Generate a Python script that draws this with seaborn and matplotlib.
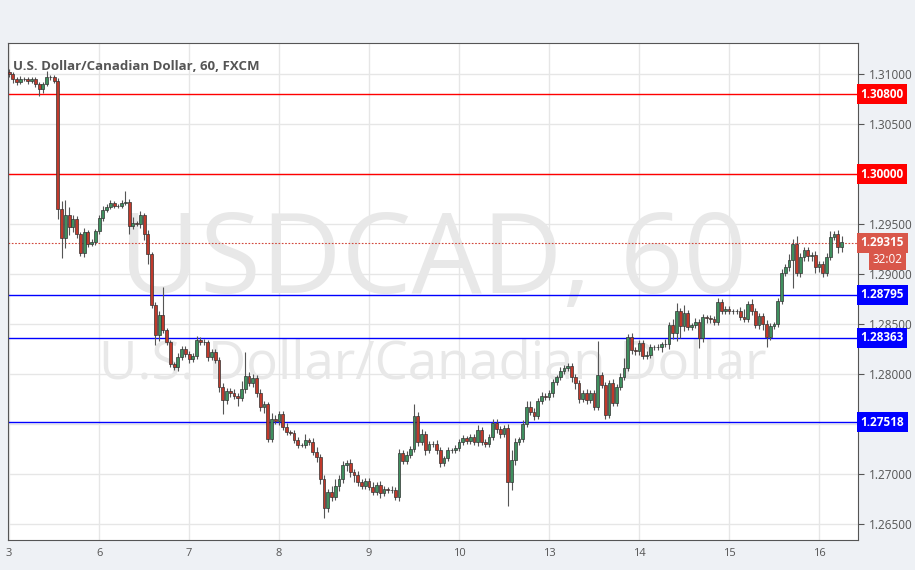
import numpy as np
import pandas as pd
import matplotlib
matplotlib.use("Agg")
import matplotlib.pyplot as plt
import seaborn as sns

# hourly closes, one per candle (open = previous close)
first_open = 1.3102
closes = [
    # day 5
    1.3100, 1.3095, 1.3092, 1.3095, 1.3095, 1.3093, 1.3095, 1.3090, 1.3085, 1.3090, 1.3097, 1.3097, 1.3093,
    1.2965, 1.2936, 1.2959, 1.2947, 1.2955, 1.2940, 1.2921, 1.2942, 1.2930, 1.2932, 1.2943,
    # day 6
    1.2956, 1.2964, 1.2967, 1.2971, 1.2968, 1.2968, 1.2971, 1.2972, 1.2948, 1.2951, 1.2950, 1.2959,
    1.2940, 1.2920, 1.2869, 1.2839, 1.2859, 1.2844, 1.2832, 1.2810, 1.2807, 1.2817, 1.2825, 1.2820,
    # day 7
    1.2815, 1.2818, 1.2834, 1.2832, 1.2832, 1.2817, 1.2822, 1.2814, 1.2787, 1.2774, 1.2783, 1.2781,
    1.2778, 1.2776, 1.2785, 1.2798, 1.2791, 1.2796, 1.2781, 1.2767, 1.2770, 1.2735, 1.2755, 1.2753,
    # day 8
    1.2760, 1.2747, 1.2742, 1.2741, 1.2734, 1.2729, 1.2729, 1.2734, 1.2732, 1.2722, 1.2717, 1.2695,
    1.2666, 1.2682, 1.2677, 1.2688, 1.2695, 1.2709, 1.2711, 1.2702, 1.2699, 1.2692, 1.2688, 1.2693,
    # day 9
    1.2687, 1.2682, 1.2689, 1.2681, 1.2685, 1.2684, 1.2684, 1.2677, 1.2721, 1.2713, 1.2719, 1.2725,
    1.2758, 1.2732, 1.2740, 1.2724, 1.2730, 1.2730, 1.2724, 1.2711, 1.2716, 1.2724, 1.2724, 1.2726,
    # day 10
    1.2732, 1.2736, 1.2733, 1.2737, 1.2732, 1.2744, 1.2732, 1.2730, 1.2737, 1.2751, 1.2745, 1.2740,
    1.2746, 1.2692, 1.2714, 1.2732, 1.2735, 1.2750, 1.2767, 1.2762, 1.2758, 1.2773, 1.2778, 1.2777,
    # day 13
    1.2781, 1.2792, 1.2797, 1.2803, 1.2806, 1.2808, 1.2797, 1.2791, 1.2775, 1.2781, 1.2774, 1.2781,
    1.2767, 1.2799, 1.2789, 1.2759, 1.2791, 1.2771, 1.2787, 1.2797, 1.2806, 1.2837, 1.2824, 1.2823,
    # day 14
    1.2831, 1.2818, 1.2819, 1.2827, 1.2827, 1.2827, 1.2830, 1.2830, 1.2849, 1.2841, 1.2863, 1.2848,
    1.2861, 1.2847, 1.2849, 1.2852, 1.2836, 1.2857, 1.2856, 1.2855, 1.2852, 1.2872, 1.2863, 1.2865,
    # day 15
    1.2863, 1.2863, 1.2863, 1.2857, 1.2855, 1.2870, 1.2863, 1.2849, 1.2858, 1.2850, 1.2837, 1.2848,
    1.2850, 1.2873, 1.2901, 1.2907, 1.2914, 1.2930, 1.2901, 1.2917, 1.2924, 1.2918, 1.2919, 1.2907,
    # day 16
    1.2910, 1.2901, 1.2917, 1.2937, 1.2940, 1.2927, 1.2932,
]

# wick lengths above / below the body, in pips
wick_up = [
    3, 2, 2, 3, 2, 2, 2, 2, 2, 2, 6, 2, 2, 3, 8, 15, 8, 4, 3, 2, 4, 2, 3, 2,
    3, 4, 3, 3, 2, 2, 3, 11, 3, 6, 2, 4, 2, 4, 2, 3, 4, 28, 2, 2, 2, 4, 3, 3,
    3, 3, 4, 3, 3, 2, 3, 3, 3, 4, 3, 3, 4, 3, 8, 24, 4, 4, 3, 4, 3, 2, 6, 4,
    3, 3, 4, 2, 3, 3, 2, 6, 2, 4, 5, 3, 4, 3, 6, 7, 4, 4, 3, 4, 3, 4, 3, 3,
    3, 5, 3, 4, 3, 2, 4, 3, 4, 3, 4, 3, 12, 4, 5, 3, 3, 3, 4, 3, 2, 3, 2, 3,
    3, 3, 2, 3, 3, 5, 3, 3, 3, 4, 4, 3, 3, 4, 10, 4, 2, 4, 6, 6, 4, 3, 4, 3,
    3, 3, 2, 4, 3, 3, 3, 3, 3, 3, 4, 3, 3, 34, 3, 3, 3, 4, 3, 4, 10, 3, 4, 3,
    3, 3, 4, 3, 2, 3, 2, 5, 3, 6, 8, 3, 8, 3, 2, 4, 3, 3, 2, 3, 3, 4, 3, 3,
    3, 2, 2, 4, 8, 3, 5, 3, 3, 3, 4, 3, 2, 3, 4, 3, 6, 5, 8, 4, 3, 3, 3, 4,
    3, 3, 4, 6, 3, 4, 6,
]
wick_dn = [
    3, 4, 3, 2, 2, 3, 2, 3, 7, 4, 2, 3, 2, 10, 20, 10, 8, 5, 4, 3, 4, 3, 2, 3,
    3, 3, 2, 2, 2, 2, 2, 2, 8, 3, 2, 4, 6, 10, 3, 10, 6, 3, 3, 3, 3, 4, 3, 3,
    4, 3, 3, 3, 3, 4, 3, 3, 5, 14, 4, 4, 3, 8, 3, 4, 3, 4, 4, 4, 6, 3, 3, 3,
    4, 3, 3, 2, 3, 3, 2, 3, 3, 3, 5, 5, 10, 4, 4, 3, 5, 4, 6, 5, 7, 4, 3, 3,
    3, 3, 3, 5, 3, 3, 3, 3, 4, 3, 3, 3, 3, 4, 3, 5, 3, 3, 4, 4, 3, 3, 3, 3,
    3, 3, 3, 3, 3, 4, 3, 3, 3, 3, 4, 4, 3, 24, 8, 5, 3, 3, 3, 3, 4, 3, 3, 3,
    3, 4, 3, 3, 3, 3, 5, 6, 4, 3, 4, 3, 3, 3, 3, 4, 3, 3, 3, 3, 3, 3, 4, 4,
    4, 3, 3, 3, 3, 3, 5, 3, 5, 6, 8, 12, 5, 3, 3, 3, 10, 4, 5, 4, 3, 3, 3, 3,
    3, 3, 3, 3, 3, 3, 4, 3, 4, 6, 10, 3, 3, 3, 3, 3, 4, 28, 3, 4, 4, 5, 5, 6,
    5, 4, 3, 3, 3, 6, 5,
]

day_ticks = [0, 24, 48, 72, 96, 120, 144, 168, 192, 216]
day_labels = ["3", "6", "7", "8", "9", "10", "13", "14", "15", "16"]

price_ticks = [1.265, 1.270, 1.275, 1.280, 1.285, 1.290, 1.295, 1.300, 1.305, 1.310]
red_levels = [1.30800, 1.30000]
blue_levels = [1.28795, 1.28363, 1.27518]
last_price = 1.29315
countdown = "32:02"

df = pd.DataFrame({"close": closes})
df["open"] = [first_open] + closes[:-1]
df["up"] = df["close"] >= df["open"]
df["top"] = df[["open", "close"]].max(axis=1)
df["bot"] = df[["open", "close"]].min(axis=1)
df["high"] = df["top"] + np.array(wick_up) * 1e-4
df["low"] = df["bot"] - np.array(wick_dn) * 1e-4
df["x"] = np.arange(len(df))

sns.set_style("white")
plt.rcParams["font.family"] = ["Open Sans", "DejaVu Sans"]

fig = plt.figure(figsize=(9.15, 5.7), dpi=100, facecolor="#eef1f5")
ax = fig.add_axes([8 / 915, 30 / 570, 850 / 915, 497 / 570], facecolor="white")

ax.set_xlim(-0.3, 226.4)
ax.set_ylim(1.26342, 1.31312)

for t in price_ticks:
    ax.axhline(t, color="#e6e6e6", lw=1, zorder=0)
for t in day_ticks:
    ax.axvline(t - 0.1, color="#e6e6e6", lw=1, zorder=0)

# watermarks
ax.text(0.5, 0.555, "USDCAD, 60", transform=ax.transAxes, ha="center", va="center",
        fontsize=80, color="#e8e8e8", zorder=0.5)
ax.text(0.5, 0.35, "U.S. Dollar/Canadian Dollar", transform=ax.transAxes, ha="center",
        va="center", fontsize=38, color="#e8e8e8", zorder=0.5)

for lvl in red_levels:
    ax.axhline(lvl, color="#ff0000", lw=1, zorder=1)
for lvl in blue_levels:
    ax.axhline(lvl, color="#0000ff", lw=1, zorder=1)
ax.axhline(last_price, color="#d0463a", lw=0.8, ls=(0, (1.5, 1.5)), zorder=1)

colors = np.where(df["up"], "#3f8f5e", "#c0392b")
ax.vlines(df["x"], df["low"], df["high"], color="#555555", lw=0.8, zorder=2)
heights = (df["top"] - df["bot"]).clip(lower=0.00006)
ax.bar(df["x"], heights, bottom=df["bot"], width=0.75, color=colors,
       edgecolor="#333333", linewidth=0.5, zorder=3)

ax.text(0.006, 0.965, "U.S. Dollar/Canadian Dollar, 60, FXCM", transform=ax.transAxes,
        fontsize=9.5, fontweight="bold", color="#555555", va="top")

ax.set_xticks(day_ticks)
ax.set_xticklabels(day_labels, fontsize=8, color="#555555")
ax.yaxis.tick_right()
ax.set_yticks(price_ticks)
# the level boxes cover the 1.30000 and 1.27500 tick labels
hidden = {1.300, 1.275}
ax.set_yticklabels(["" if round(t, 3) in hidden else f"{t:.5f}" for t in price_ticks],
                   fontsize=8.5, color="#555555")
ax.tick_params(axis="y", length=4, color="#555555", pad=4)
ax.tick_params(axis="x", length=0, pad=6)
for s in ax.spines.values():
    s.set_color("#555555")
    s.set_linewidth(0.8)


def price_box(y, text, color):
    ax.text(1.003, y, text, transform=ax.get_yaxis_transform(), ha="left", va="center",
            fontsize=8.5, fontweight="bold", color="white",
            bbox=dict(boxstyle="square,pad=0.3", fc=color, ec="none"), zorder=5, clip_on=False)


for lvl in red_levels:
    price_box(lvl, f"{lvl:.5f}", "#ff0000")
for lvl in blue_levels:
    price_box(lvl, f"{lvl:.5f}", "#0000ff")
price_box(last_price, f"{last_price:.5f}", "#d9574a")
ax.text(1.052, last_price - 0.0017, countdown, transform=ax.get_yaxis_transform(), ha="right",
        va="center", fontsize=8.5, color="white",
        bbox=dict(boxstyle="square,pad=0.3", fc="#d9574a", ec="none"), zorder=5, clip_on=False)

fig.savefig("out.png", dpi=100, facecolor=fig.get_facecolor())
